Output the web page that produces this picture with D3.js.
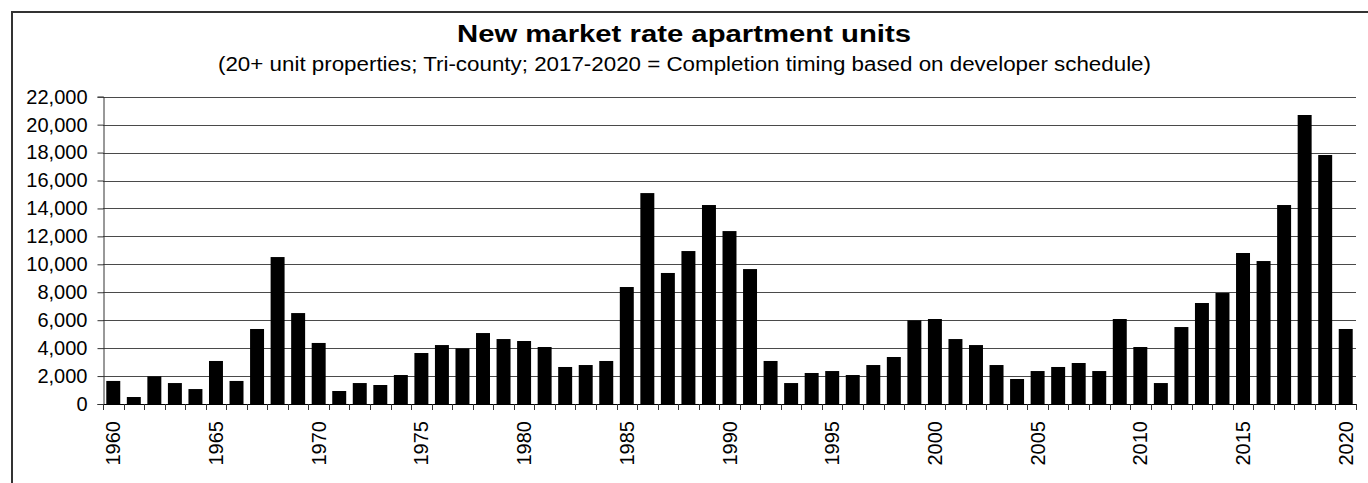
<!DOCTYPE html>
<html>
<head>
<meta charset="utf-8">
<script src="https://cdn.jsdelivr.net/npm/d3@7"></script>
<style>
  body { margin: 0; background: #fff; }
  svg { display: block; font-family: "Liberation Sans", Arial, sans-serif; }
</style>
</head>
<body>
<svg width="1368" height="483"></svg>
<script>
// years and units
const years = d3.range(1960, 2021);
const units = [
    1650, 500, 1980, 1500, 1070, 3080, 1650, 5370, 10520, 6510,
    4370, 930, 1500, 1360, 2075, 3650, 4220, 3980, 5080, 4650,
    4510, 4080, 2650, 2790, 3080, 8375, 15100, 9380, 10950, 14245,
    12380, 9660, 3080, 1500, 2220, 2360, 2075, 2790, 3365, 5990,
    6085, 4650, 4220, 2790, 1790, 2360, 2650, 2935, 2360, 6085,
    4080, 1500, 5510, 7230, 7945, 10810, 10235, 14245, 20690, 17825,
    5370
];
const yTicks = d3.range(0, 22001, 2000);
const yearLabels = years.filter(y => y % 5 === 0);

const title = "New market rate apartment units";
const subtitle = "(20+ unit properties; Tri-county; 2017-2020 = Completion timing based on developer schedule)";

const svg = d3.select("svg");

// outer frame (only top and left are in view)
svg.append("path")
    .attr("d", "M12,483 V12 H1368")
    .attr("fill", "none")
    .attr("stroke", "#333")
    .attr("stroke-width", 2);

// titles (the original text is squeezed sideways)
svg.append("text")
    .attr("x", 684).attr("y", 41.5)
    .attr("text-anchor", "middle")
    .attr("font-size", 23).attr("font-weight", "bold")
    .attr("textLength", 454).attr("lengthAdjust", "spacingAndGlyphs")
    .text(title);

svg.append("text")
    .attr("x", 684.5).attr("y", 71)
    .attr("text-anchor", "middle")
    .attr("font-size", 19.5)
    .attr("textLength", 933).attr("lengthAdjust", "spacingAndGlyphs")
    .text(subtitle);

// scales
const x = d3.scaleBand()
    .domain(years)
    .range([103, 1356])
    .paddingInner(0.32)
    .paddingOuter(0.16);

const y = d3.scaleLinear()
    .domain([0, 22000])
    .range([404, 96.7]);

// gridlines
svg.append("g")
    .selectAll("line")
    .data(yTicks.filter(d => d > 0))
    .enter()
    .append("line")
    .attr("x1", 103).attr("x2", 1356)
    .attr("y1", d => Math.round(y(d)) + 0.5)
    .attr("y2", d => Math.round(y(d)) + 0.5)
    .attr("stroke", "#4a4a4a");

// bars
svg.append("g")
    .selectAll("rect")
    .data(years)
    .enter()
    .append("rect")
    .attr("x", d => x(d))
    .attr("width", x.bandwidth())
    .attr("y", (d, i) => y(units[i]))
    .attr("height", (d, i) => y(0) - y(units[i]))
    .attr("fill", "#000");

// y axis
const yAxis = svg.append("g")
    .attr("transform", "translate(103.5,0)")
    .call(d3.axisLeft(y)
        .tickValues(yTicks)
        .tickSize(6)
        .tickPadding(10)
        .tickFormat(d3.format(",")));
yAxis.select(".domain").attr("stroke", "#333");
yAxis.selectAll(".tick line").attr("stroke", "#333");
yAxis.selectAll(".tick text")
    .attr("font-size", 20)
    .attr("font-family", "Liberation Sans, Arial, sans-serif")
    .attr("fill", "#000");

// x axis: line, ticks between categories, labels every 5 years
const step = x.step();
const x0 = 103;
svg.append("line")
    .attr("x1", x0).attr("x2", 1356)
    .attr("y1", 404.5).attr("y2", 404.5)
    .attr("stroke", "#000");

svg.append("g")
    .selectAll("line")
    .data(d3.range(years.length + 1))
    .enter()
    .append("line")
    .attr("x1", i => Math.round(x0 + i * step) + 0.5)
    .attr("x2", i => Math.round(x0 + i * step) + 0.5)
    .attr("y1", 404).attr("y2", 410)
    .attr("stroke", "#333");

svg.append("g")
    .selectAll("text")
    .data(yearLabels)
    .enter()
    .append("text")
    .attr("transform", d => `translate(${x(d) + x.bandwidth() / 2},421) rotate(-90)`)
    .attr("text-anchor", "end")
    .attr("dy", "0.35em")
    .attr("font-size", 20)
    .text(d => d);
</script>
</body>
</html>
